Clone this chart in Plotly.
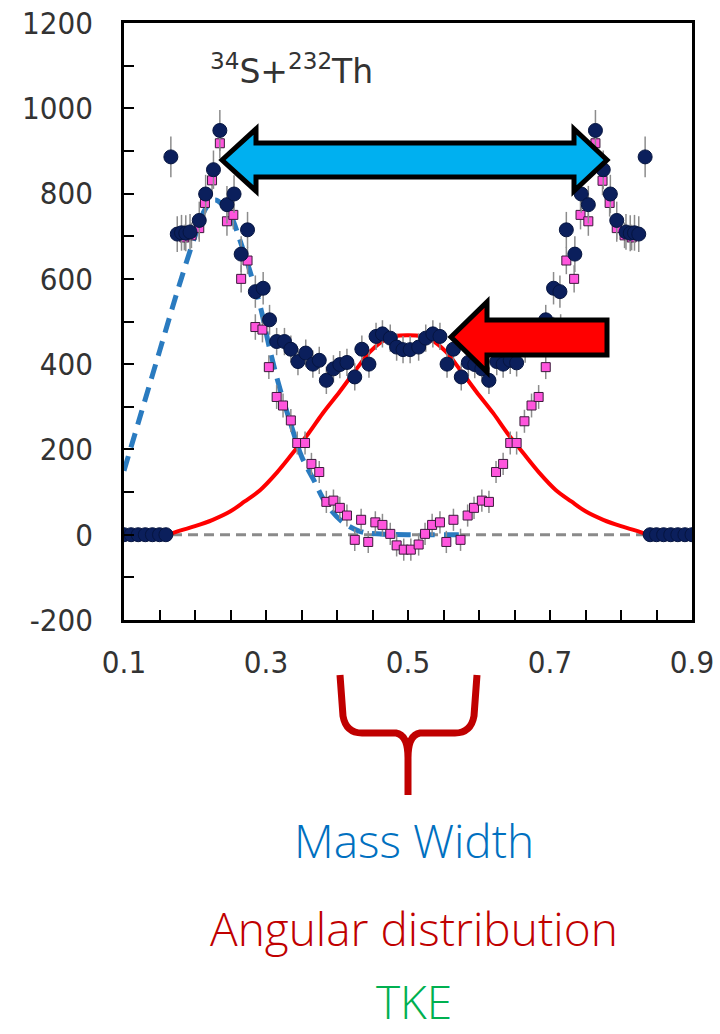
import plotly.graph_objects as go

W, H = 720, 1034
PL, PR, PT, PB = 124, 692, 23, 620   # plot box in pixels

# ---------------- data ----------------
navy_x = [0.100, 0.110, 0.120, 0.130, 0.140, 0.150, 0.159,
          0.166, 0.175, 0.181, 0.187, 0.193, 0.206, 0.215, 0.226, 0.235,
          0.245, 0.255, 0.265, 0.274, 0.285, 0.296, 0.305, 0.315, 0.326,
          0.335, 0.345, 0.356, 0.366, 0.375, 0.385, 0.395, 0.404, 0.414,
          0.425, 0.435, 0.445, 0.455, 0.464, 0.475, 0.484, 0.493, 0.503,
          0.515, 0.525, 0.535, 0.545, 0.555, 0.564, 0.575, 0.585, 0.594,
          0.604, 0.614, 0.625, 0.634, 0.644, 0.653, 0.665, 0.674, 0.685,
          0.694, 0.705, 0.714, 0.723, 0.735, 0.744, 0.754, 0.764, 0.775,
          0.785, 0.794, 0.807, 0.813, 0.819, 0.825, 0.834,
          0.841, 0.850, 0.860, 0.870, 0.880, 0.890, 0.900]
navy_y = [0, 0, 0, 0, 0, 0, 0,
          886, 705, 708, 707, 710, 737, 799, 856, 948,
          774, 799, 658, 715, 570, 578, 504, 453, 453,
          435, 406, 426, 400, 409, 362, 389, 399, 404,
          370, 435, 400, 465, 471, 461, 440, 434, 434,
          440, 461, 471, 465, 400, 435, 370, 404, 399,
          389, 362, 406, 400, 409, 403, 435, 453, 453,
          504, 578, 570, 715, 658, 799, 774, 948, 856,
          799, 737, 710, 707, 708, 705, 886,
          0, 0, 0, 0, 0, 0, 0]
navy_err = [0, 0, 0, 0, 0, 0, 0,
            48, 42, 42, 42, 42, 44, 45, 45, 48,
            44, 44, 42, 42, 38, 38, 35, 32, 32,
            32, 32, 32, 32, 32, 32, 32, 32, 32,
            32, 32, 32, 32, 32, 32, 32, 32, 32,
            32, 32, 32, 32, 32, 32, 32, 32, 32,
            32, 32, 32, 32, 32, 32, 32, 32, 32,
            35, 38, 38, 42, 42, 44, 44, 48, 45,
            45, 44, 42, 42, 42, 42, 48,
            0, 0, 0, 0, 0, 0, 0]

pink_x = [0.185, 0.195, 0.206, 0.214, 0.224, 0.235, 0.245, 0.254, 0.265,
          0.274, 0.285, 0.295, 0.304, 0.315, 0.324, 0.335, 0.344, 0.355,
          0.364, 0.375, 0.385, 0.395, 0.404, 0.414, 0.425, 0.434, 0.444,
          0.454, 0.464, 0.475, 0.484, 0.494, 0.504, 0.515, 0.524, 0.534,
          0.545, 0.554, 0.564, 0.574, 0.584, 0.593, 0.604, 0.614, 0.624,
          0.634, 0.644, 0.653, 0.664, 0.674, 0.684, 0.694, 0.705, 0.715,
          0.723, 0.734, 0.743, 0.754, 0.764, 0.774, 0.784, 0.794, 0.805,
          0.815]
pink_y = [697, 702, 719, 778, 831, 918, 735, 750, 600,
          643, 487, 481, 393, 323, 303, 268, 215, 215,
          166, 147, 77, 80, 63, 45, -12, 35, -17,
          29, 23, 2, -25, -35, -35, -23, 2, 23,
          29, -17, 35, -12, 45, 63, 80, 77, 147,
          166, 215, 215, 266, 303, 323, 393, 481, 487,
          643, 600, 750, 735, 918, 830, 778, 719, 702,
          697]
pink_err = [30, 30, 32, 32, 34, 36, 34, 34, 32,
            32, 30, 30, 28, 28, 28, 27, 27, 27,
            26, 26, 26, 26, 26, 26, 26, 26, 26,
            26, 26, 26, 26, 26, 26, 26, 26, 26,
            26, 26, 26, 26, 26, 26, 26, 26, 26,
            26, 27, 27, 27, 28, 28, 28, 30, 30,
            32, 32, 34, 34, 36, 34, 32, 32, 30,
            30]

blue_x = [0.100, 0.125, 0.150, 0.175, 0.200, 0.215, 0.228, 0.240, 0.250,
          0.263, 0.277, 0.292, 0.306, 0.320, 0.336, 0.350, 0.367, 0.385,
          0.407, 0.432, 0.456, 0.500, 0.576]
blue_y = [150, 290, 430, 570, 700, 765, 785, 772, 750,
          692, 620, 535, 430, 340, 254, 184, 129, 72,
          31, 8, 2, 0, 0]

red_x = [0.162, 0.180, 0.200, 0.225, 0.250, 0.270, 0.292, 0.315, 0.338,
         0.360, 0.380, 0.404, 0.428, 0.446, 0.465, 0.482, 0.500, 0.518,
         0.535, 0.554, 0.572, 0.596, 0.620, 0.640, 0.662, 0.685, 0.708,
         0.730, 0.750, 0.775, 0.800, 0.820, 0.838]
red_y = [0, 10, 20, 35, 55, 78, 105, 145, 192,
         238, 285, 336, 390, 428, 455, 466, 468, 466,
         455, 428, 390, 336, 285, 238, 192, 145, 105,
         78, 55, 35, 20, 10, 0]

zero_x = [0.10, 0.90]
zero_y = [0, 0]

x_ticks = [0.1, 0.3, 0.5, 0.7, 0.9]
x_ticklabels = ["0.1", "0.3", "0.5", "0.7", "0.9"]
y_ticks = [-200, 0, 200, 400, 600, 800, 1000, 1200]
y_ticklabels = ["-200", "0", "200", "400", "600", "800", "1000", "1200"]

# ---------------- helpers (pixel -> paper) ----------------
def px(x):
    return x / W

def py(y):
    return 1 - y / H

def poly(points):
    return "M " + " L ".join(f"{px(a):.5f},{py(b):.5f}" for a, b in points) + " Z"

def pt(a, b):
    return f"{px(a):.5f},{py(b):.5f}"

fig = go.Figure()

fig.add_trace(go.Scatter(x=zero_x, y=zero_y, mode="lines",
                         line=dict(color="#8a8a8a", width=3, dash="10px,6px"),
                         hoverinfo="skip", showlegend=False))
fig.add_trace(go.Scatter(x=red_x, y=red_y, mode="lines", line_shape="spline",
                         line=dict(color="#FF0000", width=4),
                         showlegend=False))
fig.add_trace(go.Scatter(x=blue_x, y=blue_y, mode="lines", line_shape="spline",
                         line=dict(color="#2A7BC0", width=5, dash="15px,9px"),
                         showlegend=False))
fig.add_trace(go.Scatter(x=pink_x, y=pink_y, mode="markers",
                         marker=dict(symbol="square", size=9, color="#FF55DD",
                                     line=dict(color="#3a1a3a", width=1)),
                         error_y=dict(type="data", array=pink_err, color="#8c8c8c",
                                      thickness=1.5, width=0),
                         showlegend=False))
fig.add_trace(go.Scatter(x=navy_x, y=navy_y, mode="markers",
                         marker=dict(symbol="circle", size=14, color="#0B1F5C",
                                     line=dict(color="#061540", width=1)),
                         error_y=dict(type="data", array=navy_err, color="#8c8c8c",
                                      thickness=1.5, width=0),
                         showlegend=False))

tickfont = dict(family="DejaVu Sans Condensed, DejaVu Sans, sans-serif", size=31, color="#333333")

fig.update_layout(
    width=W, height=H, autosize=False,
    margin=dict(l=0, r=0, t=0, b=0),
    paper_bgcolor="white", plot_bgcolor="white",
    template="none",
    showlegend=False,
    xaxis=dict(domain=[PL / W, PR / W], range=[0.1, 0.9],
               tickmode="array", tickvals=x_ticks, ticktext=x_ticklabels,
               ticks="inside", ticklen=10, tickwidth=2, tickcolor="black",
               minor=dict(ticks="inside", dtick=0.05, tick0=0.1, ticklen=10,
                          tickwidth=2, tickcolor="black", showgrid=False),
               showline=True, linewidth=2.5, linecolor="black", mirror=True,
               showgrid=False, zeroline=False, automargin=False,
               tickfont=tickfont, ticklabelstandoff=13),
    yaxis=dict(domain=[1 - PB / H, 1 - PT / H], range=[-200, 1200],
               tickmode="array", tickvals=y_ticks, ticktext=y_ticklabels,
               ticks="inside", ticklen=10, tickwidth=2, tickcolor="black",
               minor=dict(ticks="inside", dtick=100, tick0=0, ticklen=10,
                          tickwidth=2, tickcolor="black", showgrid=False),
               showline=True, linewidth=2.5, linecolor="black", mirror=True,
               showgrid=False, zeroline=False, automargin=False,
               tickfont=tickfont, ticklabelstandoff=22),
)

# arrows (pixel geometry)
blue_arrow = [(222, 160), (256, 129), (256, 143), (574, 143), (574, 129), (607, 160),
              (574, 191), (574, 177), (256, 177), (256, 191)]
red_arrow = [(451, 337), (487, 302), (487, 320), (607, 320), (607, 355),
             (487, 355), (487, 372)]
fig.add_shape(type="path", xref="paper", yref="paper", path=poly(blue_arrow),
              fillcolor="#00B0F0", line=dict(color="black", width=5), layer="above")
fig.add_shape(type="path", xref="paper", yref="paper", path=poly(red_arrow),
              fillcolor="#FF0000", line=dict(color="black", width=5), layer="above")

# brace
brace = (f"M {pt(340,675)} L {pt(343,716)} Q {pt(346,733)} {pt(362,733)} "
         f"L {pt(396,733)} Q {pt(408,735)} {pt(408,758)} L {pt(408,795)} "
         f"M {pt(477,675)} L {pt(474,716)} Q {pt(471,733)} {pt(455,733)} "
         f"L {pt(420,733)} Q {pt(408,735)} {pt(408,758)}")
fig.add_shape(type="path", xref="paper", yref="paper", path=brace,
              line=dict(color="#C00000", width=7), layer="above")

# title text
fig.add_annotation(xref="paper", yref="paper", x=px(291), y=py(70),
                   text="<sup>34</sup>S+<sup>232</sup>Th", showarrow=False,
                   font=dict(family="DejaVu Sans, sans-serif",
                             size=33, color="#333333"),
                   xanchor="center", yanchor="middle")

labels = [("Mass Width", "#0070C0", 840), ("Angular distribution", "#C00000", 928)]
for txt, col, yy in labels:
    fig.add_annotation(xref="paper", yref="paper", x=px(414), y=py(yy), text=txt,
                       showarrow=False, xanchor="center", yanchor="middle",
                       font=dict(family="Open Sans, Noto Sans, sans-serif", size=46,
                                 color=col, weight=300))
fig.add_annotation(xref="paper", yref="paper", x=px(414), y=0, text="TKE",
                   showarrow=False, xanchor="center", yanchor="bottom",
                   font=dict(family="Open Sans, Noto Sans, sans-serif", size=46,
                             color="#00B050", weight=300))

fig.write_html("out.html")
